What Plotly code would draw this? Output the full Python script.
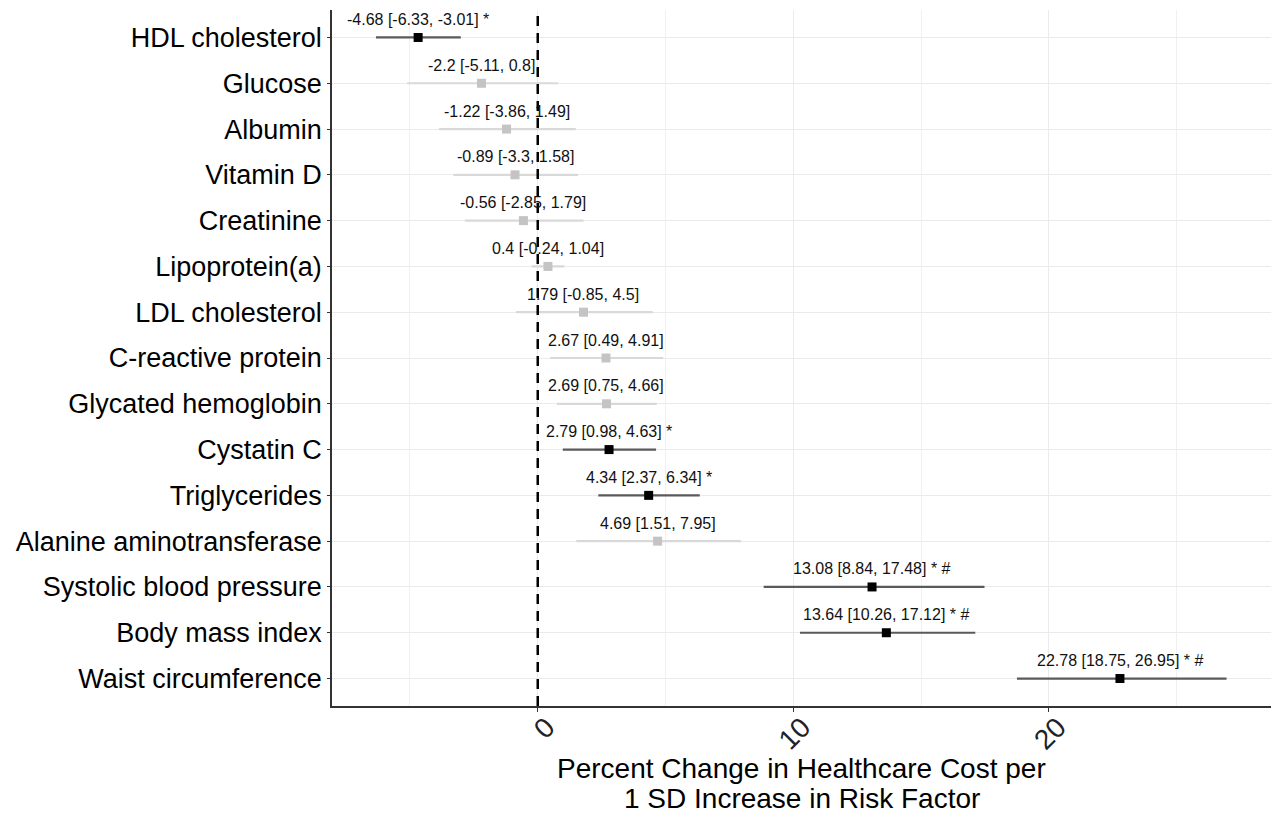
# Forest plot: percent change in healthcare cost per 1 SD increase in each risk factor

import plotly.graph_objects as go

factors = ['HDL cholesterol', 'Glucose', 'Albumin', 'Vitamin D', 'Creatinine',
           'Lipoprotein(a)', 'LDL cholesterol', 'C-reactive protein',
           'Glycated hemoglobin', 'Cystatin C', 'Triglycerides',
           'Alanine aminotransferase', 'Systolic blood pressure',
           'Body mass index', 'Waist circumference']
estimate = [-4.68, -2.2, -1.22, -0.89, -0.56, 0.4, 1.79, 2.67, 2.69, 2.79,
            4.34, 4.69, 13.08, 13.64, 22.78]
lower = [-6.33, -5.11, -3.86, -3.3, -2.85, -0.24, -0.85, 0.49, 0.75, 0.98,
         2.37, 1.51, 8.84, 10.26, 18.75]
upper = [-3.01, 0.8, 1.49, 1.58, 1.79, 1.04, 4.5, 4.91, 4.66, 4.63,
         6.34, 7.95, 17.48, 17.12, 26.95]
star = [1, 0, 0, 0, 0, 0, 0, 0, 0, 1, 1, 0, 1, 1, 1]
hashmark = [0, 0, 0, 0, 0, 0, 0, 0, 0, 0, 0, 0, 1, 1, 1]
xtitle = ['Percent Change in Healthcare Cost per', '1 SD Increase in Risk Factor']

FONT = 'Arial, Liberation Sans, sans-serif'

fig = go.Figure()

# two groups: significant (black) and not (grey)
groups = [(0, '#c4c4c4', '#d9d9d9'), (1, '#000000', '#5a5a5a')]
for flag, mcol, lcol in groups:
    idx = [i for i in range(len(factors)) if star[i] == flag]
    fig.add_trace(go.Scatter(
        x=[estimate[i] for i in idx],
        y=[factors[i] for i in idx],
        mode='markers',
        marker=dict(symbol='square', size=9, color=mcol),
        error_x=dict(type='data', symmetric=False,
                     array=[upper[i] - estimate[i] for i in idx],
                     arrayminus=[estimate[i] - lower[i] for i in idx],
                     color=lcol, thickness=2.2, width=0),
        showlegend=False))

for i, name in enumerate(factors):
    txt = f'{estimate[i]:g} [{lower[i]:g}, {upper[i]:g}]'
    if star[i]:
        txt += ' *'
    if hashmark[i]:
        txt += ' #'
    fig.add_annotation(x=estimate[i], y=name, text=txt, showarrow=False,
                       yshift=18, font=dict(family=FONT, size=16, color='#111111'))

# axis title as two lines with tighter spacing
for j, line in enumerate(xtitle):
    fig.add_annotation(x=0.5, xref='paper', y=-0.09 - 0.043 * j, yref='paper',
                       text=line, showarrow=False, yanchor='middle',
                       font=dict(family=FONT, size=28, color='black'))

fig.add_shape(type='line', x0=0, x1=0, y0=0, y1=1, xref='x', yref='paper',
              line=dict(color='black', width=2.5, dash='10px,7px'))

fig.update_layout(
    width=1272, height=810,
    margin=dict(l=324, r=9, t=2, b=112),
    plot_bgcolor='white', paper_bgcolor='white',
    font=dict(family=FONT, color='black'),
)
fig.update_xaxes(
    automargin=False,
    range=[-8.05, 28.69], tickvals=[0, 10, 20], tickangle=-45,
    tickfont=dict(size=28, color='#222222'),
    ticklabelshift=9, ticklabelstandoff=-12,
    showgrid=True, gridcolor='#ebebeb', gridwidth=1,
    minor=dict(tickvals=[-5, 5, 15, 25], showgrid=True, gridcolor='#f0f0f0'),
    zeroline=False, showline=True, linecolor='#333333', linewidth=1.5,
    ticks='outside', ticklen=4, tickcolor='#333333',
)
fig.update_yaxes(
    automargin=False,
    categoryorder='array', categoryarray=factors, autorange=False,
    range=[len(factors) - 0.4, -0.6],
    tickfont=dict(size=27, color='black'),
    showgrid=True, gridcolor='#ebebeb', gridwidth=1,
    zeroline=False, showline=True, linecolor='#333333', linewidth=1.5,
    ticks='outside', ticklen=3, tickcolor='#333333',
)

fig.write_html('out.html')
